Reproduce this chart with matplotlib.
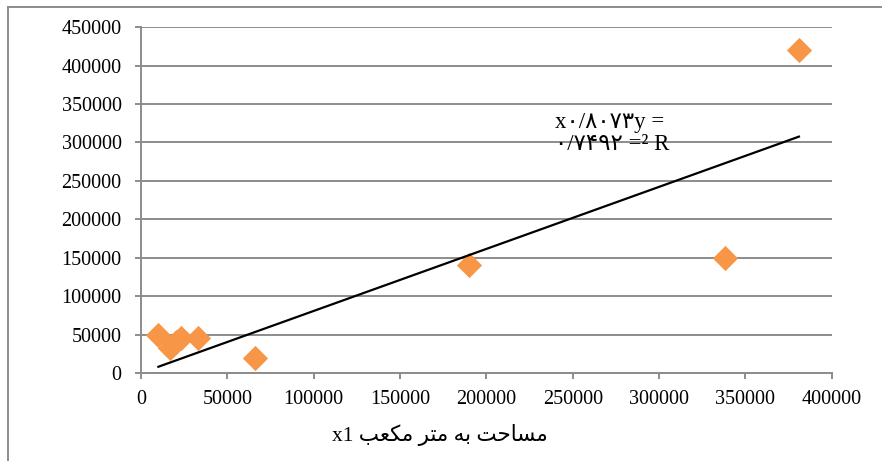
import numpy as np
import matplotlib
matplotlib.use('Agg')
import matplotlib.pyplot as plt
from matplotlib.lines import Line2D

# data
area = [10000, 17000, 20000, 23000, 33000, 66000, 190000, 338000, 381000]
price = [50000, 33000, 40000, 45000, 45000, 20000, 140000, 150000, 420000]
slope = 0.8073   # trendline through origin, y = 0.8073x
r2_text = '۰/۷۴۹۲ =² R'
eq_text = 'x۰/۸۰۷۳y ='
xlabel = 'مساحت به متر مکعب x1'
xticks = np.arange(0, 400001, 50000)
yticks = np.arange(0, 450001, 50000)

# matplotlib has no arabic shaping, so pick presentation forms by hand
# letter: (isolated, final, initial, medial)
forms = {
    'م': ('\uFEE1', '\uFEE2', '\uFEE3', '\uFEE4'),
    'س': ('\uFEB1', '\uFEB2', '\uFEB3', '\uFEB4'),
    'ا': ('\uFE8D', '\uFE8E', None, None),
    'ح': ('\uFEA1', '\uFEA2', '\uFEA3', '\uFEA4'),
    'ت': ('\uFE95', '\uFE96', '\uFE97', '\uFE98'),
    'ب': ('\uFE8F', '\uFE90', '\uFE91', '\uFE92'),
    'ه': ('\uFEE9', '\uFEEA', '\uFEEB', '\uFEEC'),
    'ر': ('\uFEAD', '\uFEAE', None, None),
    'ک': ('\uFB8E', '\uFB8F', '\uFB90', '\uFB91'),
    'ع': ('\uFEC9', '\uFECA', '\uFECB', '\uFECC'),
}

def shape_word(w):
    if not any(c in forms for c in w):
        return w
    out = []
    for i, c in enumerate(w):
        prev = w[i-1] if i > 0 else None
        nxt = w[i+1] if i < len(w) - 1 else None
        jp = prev in forms and forms[prev][2] is not None
        jn = forms[c][2] is not None and nxt in forms
        if jp and jn:
            f = forms[c][3]
        elif jp:
            f = forms[c][1]
        elif jn:
            f = forms[c][2]
        else:
            f = forms[c][0]
        out.append(f)
    return ''.join(reversed(out))

def visual(s):
    return ' '.join(shape_word(w) for w in reversed(s.split(' ')))

serif = ['Liberation Serif', 'DejaVu Sans']
plt.rcParams['font.family'] = serif

fig = plt.figure(figsize=(8.82, 4.61), dpi=100)
ax = fig.add_axes([0.160, 0.191, 0.783, 0.750])

grid_c = '#8c8c8c'
ax.set_xlim(0, 400000)
ax.set_ylim(0, 450000)
ax.set_xticks(xticks)
ax.set_yticks(yticks)
ax.yaxis.grid(True, color=grid_c, linewidth=1.4)
ax.set_axisbelow(True)
for s in ['top', 'right']:
    ax.spines[s].set_visible(False)
for s in ['left', 'bottom']:
    ax.spines[s].set_color(grid_c)
    ax.spines[s].set_linewidth(1.4)
ax.tick_params(axis='both', colors=grid_c, length=4, width=1.4, labelsize=14.5,
               labelcolor='black')
ax.tick_params(axis='y', pad=10)
ax.tick_params(axis='x', pad=8)

ax.scatter(area, price, marker='D', s=165, color='#F79646', zorder=3,
           linewidths=0)

xs = np.array([min(area), max(area)])
ax.plot(xs, slope * xs, color='black', linewidth=1.6, zorder=4)

ax.text(240000, 339000, eq_text + '\n' + r2_text, fontsize=16.5,
        va='top', ha='left', linespacing=1.05, family=serif)

ax.set_xlabel(visual(xlabel), fontsize=15.5, family=serif)
ax.xaxis.set_label_coords(0.433, -0.148)

# outer chart border (left and top only visible)
bx, by = 7.5 / 882, 1 - 7.5 / 461
fig.add_artist(Line2D([bx, bx], [0, by], color='#8c8c8c', linewidth=1.4,
                      transform=fig.transFigure))
fig.add_artist(Line2D([bx, 1], [by, by], color='#8c8c8c', linewidth=1.4,
                      transform=fig.transFigure))

fig.savefig('out.png', dpi=100)
